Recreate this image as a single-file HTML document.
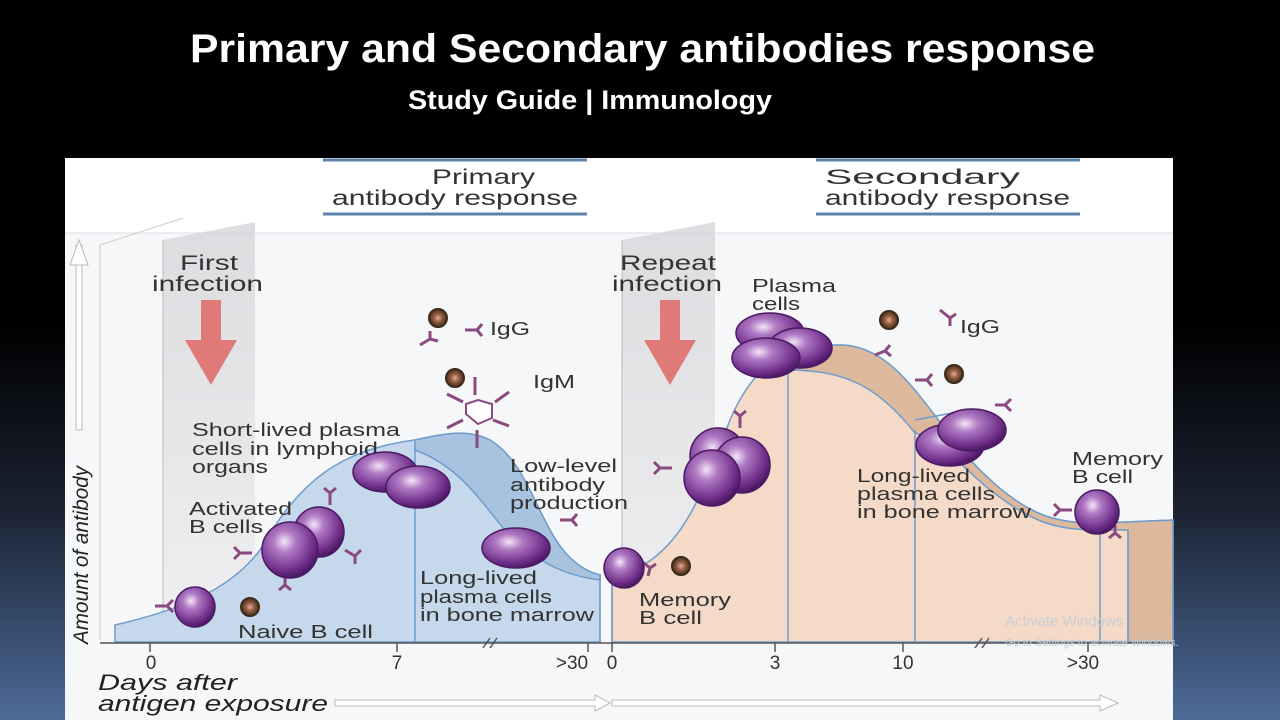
<!DOCTYPE html>
<html><head><meta charset="utf-8"><style>
body{margin:0;width:1280px;height:720px;overflow:hidden;background:linear-gradient(180deg,#000 0%,#000 45%,#1a2130 70%,#3b5275 90%,#4d6a98 100%);font-family:"Liberation Sans",sans-serif;position:relative}
svg{position:absolute;left:0;top:0}
</style></head><body>
<svg width="1280" height="720" viewBox="0 0 1280 720" font-family="Liberation Sans, sans-serif">
<defs>
<radialGradient id="c" cx="40%" cy="35%" r="65%"><stop offset="0" stop-color="#f3e6f7"/><stop offset="0.3" stop-color="#b07ac4"/><stop offset="0.8" stop-color="#6f2e8a"/><stop offset="1" stop-color="#4b1a63"/></radialGradient>
<radialGradient id="v" cx="50%" cy="50%" r="50%"><stop offset="0" stop-color="#e9a7a0"/><stop offset="0.5" stop-color="#8a5a3a"/><stop offset="1" stop-color="#4a3020"/></radialGradient>
<linearGradient id="g" x1="0" y1="0" x2="0" y2="1"><stop offset="0" stop-color="#d6d6da"/><stop offset="1" stop-color="#eeeef0"/></linearGradient>
</defs>
<text x="190" y="62" font-size="40" font-weight="bold" fill="#fff" textLength="905" lengthAdjust="spacingAndGlyphs">Primary and  Secondary antibodies response</text>
<text x="408" y="109" font-size="27" font-weight="bold" fill="#fff" textLength="364" lengthAdjust="spacingAndGlyphs">Study Guide | Immunology</text>
<rect x="65" y="158" width="1108" height="562" fill="#f6f7f8"/>
<rect x="65" y="158" width="1108" height="75" fill="#fff"/>
<line x1="65" y1="233" x2="1173" y2="233" stroke="#d8dde3"/>
<line x1="323" y1="160" x2="587" y2="160" stroke="#5b82a8" stroke-width="3"/>
<line x1="323" y1="214" x2="587" y2="214" stroke="#5b82a8" stroke-width="3"/>
<line x1="816" y1="160" x2="1080" y2="160" stroke="#5b82a8" stroke-width="3"/>
<line x1="816" y1="214" x2="1080" y2="214" stroke="#5b82a8" stroke-width="3"/>
<g font-size="21" fill="#333" lengthAdjust="spacingAndGlyphs">
<text x="432" y="184" textLength="103" lengthAdjust="spacingAndGlyphs">Primary</text><text x="332" y="205" textLength="246" lengthAdjust="spacingAndGlyphs">antibody response</text>
<text x="825" y="184" textLength="195" lengthAdjust="spacingAndGlyphs">Secondary</text><text x="825" y="205" textLength="245" lengthAdjust="spacingAndGlyphs">antibody response</text>
</g>
<polyline points="100,245 100,640" fill="none" stroke="#ccc"/>
<path d="M100,245 L183,218" stroke="#ccc" fill="none"/>
<path d="M163,240 L255,222 L255,640 L163,640Z" fill="url(#g)" opacity="0.8"/>
<path d="M622,240 L715,222 L715,640 L622,640Z" fill="url(#g)" opacity="0.8"/>
<line x1="163" y1="240" x2="163" y2="640" stroke="#bbb"/>
<line x1="622" y1="240" x2="622" y2="640" stroke="#bbb"/>
<path d="M76,245 L82,245 L82,430 L76,430Z" fill="#fff" stroke="#bbb"/>
<path d="M70,265 L79,240 L88,265Z" fill="#fff" stroke="#bbb"/>
<text transform="translate(88,644) rotate(-90)" font-size="21" font-style="italic" fill="#222" textLength="178" lengthAdjust="spacingAndGlyphs">Amount of antibody</text>
<path d="M115,642 L115,625 C180,610 230,590 260,550 C300,480 340,450 415,440 C450,432 470,430 490,440 C540,470 540,560 600,575 L600,642Z" fill="#c6d8ec" stroke="#6f9ccc" stroke-width="1.5"/>
<path d="M415,440 C450,432 470,430 490,440 C540,470 540,560 600,575 L600,580 C560,575 540,560 520,545 C490,520 470,470 415,450Z" fill="#a8c3e0" stroke="#6f9ccc" stroke-width="1.5"/>
<line x1="415" y1="445" x2="415" y2="642" stroke="#6f9ccc" stroke-width="1.5"/>
<path d="M612,642 L612,578 C680,560 700,500 730,420 C760,350 800,345 840,345 C900,345 930,420 980,470 C1030,520 1060,523 1100,523 L1173,520 L1173,642Z" fill="#f5dbc7" stroke="#6f9ccc" stroke-width="1.5"/>
<path d="M788,360 C800,345 820,345 840,345 C900,345 930,420 980,470 C1030,520 1060,523 1100,523 L1173,520 L1173,642 L1128,642 L1128,530 L1100,530 C1050,530 1030,520 990,490 C960,465 940,440 915,433 C880,390 850,370 788,370Z" fill="#dcb89d" stroke="#6f9ccc" stroke-width="1.5"/>
<line x1="915" y1="420" x2="968" y2="410" stroke="#6f9ccc" stroke-width="1.5"/>
<g stroke="#6f9ccc" stroke-width="1.5">
<line x1="600" y1="575" x2="600" y2="642"/><line x1="612" y1="578" x2="612" y2="642"/>
<line x1="788" y1="365" x2="788" y2="642"/><line x1="915" y1="430" x2="915" y2="642"/>
<line x1="1100" y1="525" x2="1100" y2="642"/><line x1="1128" y1="530" x2="1128" y2="642"/>
</g>
<line x1="100" y1="643" x2="1173" y2="643" stroke="#555" stroke-width="1.5"/>
<g stroke="#555" stroke-width="1.5">
<line x1="150" y1="643" x2="150" y2="652"/><line x1="397" y1="643" x2="397" y2="652"/><line x1="588" y1="643" x2="588" y2="652"/><line x1="612" y1="643" x2="612" y2="652"/><line x1="775" y1="643" x2="775" y2="652"/><line x1="903" y1="643" x2="903" y2="652"/><line x1="1088" y1="643" x2="1088" y2="652"/>
<line x1="483" y1="648" x2="490" y2="638"/><line x1="490" y1="648" x2="497" y2="638"/>
<line x1="975" y1="648" x2="982" y2="638"/><line x1="982" y1="648" x2="989" y2="638"/>
</g>
<g font-size="19" fill="#333" text-anchor="middle">
<text x="151" y="669">0</text><text x="397" y="669">7</text><text x="572" y="669">&gt;30</text><text x="612" y="669">0</text><text x="775" y="669">3</text><text x="903" y="669">10</text><text x="1083" y="669">&gt;30</text>
</g>
<text x="98" y="690" font-size="22" font-style="italic" fill="#222" textLength="139" lengthAdjust="spacingAndGlyphs">Days after</text>
<text x="98" y="711" font-size="22" font-style="italic" fill="#222" textLength="230" lengthAdjust="spacingAndGlyphs">antigen exposure</text>
<path d="M335,700 L595,700 L595,695 L610,703 L595,711 L595,706 L335,706Z" fill="#fff" stroke="#bbb"/>
<path d="M612,700 L1100,700 L1100,695 L1118,703 L1100,711 L1100,706 L612,706Z" fill="#fff" stroke="#bbb"/>
<path d="M201,300 L221,300 L221,340 L237,340 L211,385 L185,340 L201,340Z" fill="#e07a78"/>
<path d="M660,300 L680,300 L680,340 L696,340 L670,385 L644,340 L660,340Z" fill="#e07a78"/>
<g font-size="21" fill="#333">
<text x="180" y="270" textLength="58" lengthAdjust="spacingAndGlyphs">First</text><text x="152" y="291" textLength="111" lengthAdjust="spacingAndGlyphs">infection</text>
<text x="620" y="270" textLength="96" lengthAdjust="spacingAndGlyphs">Repeat</text><text x="612" y="291" textLength="110" lengthAdjust="spacingAndGlyphs">infection</text>
</g>
<g font-size="18" fill="#333">
<text x="192" y="436" textLength="208" lengthAdjust="spacingAndGlyphs">Short-lived plasma</text><text x="192" y="455" textLength="186" lengthAdjust="spacingAndGlyphs">cells in lymphoid</text><text x="192" y="473" textLength="76" lengthAdjust="spacingAndGlyphs">organs</text>
<text x="189" y="515" textLength="103" lengthAdjust="spacingAndGlyphs">Activated</text><text x="189" y="533" textLength="74" lengthAdjust="spacingAndGlyphs">B cells</text>
<text x="238" y="638" textLength="135" lengthAdjust="spacingAndGlyphs">Naive B cell</text>
<text x="510" y="472" textLength="107" lengthAdjust="spacingAndGlyphs">Low-level</text><text x="510" y="491" textLength="95" lengthAdjust="spacingAndGlyphs">antibody</text><text x="510" y="509" textLength="118" lengthAdjust="spacingAndGlyphs">production</text>
<text x="420" y="584" textLength="117" lengthAdjust="spacingAndGlyphs">Long-lived</text><text x="420" y="603" textLength="132" lengthAdjust="spacingAndGlyphs">plasma cells</text><text x="420" y="621" textLength="174" lengthAdjust="spacingAndGlyphs">in bone marrow</text>
<text x="490" y="335" textLength="40" lengthAdjust="spacingAndGlyphs">IgG</text><text x="533" y="388" textLength="42" lengthAdjust="spacingAndGlyphs">IgM</text>
<text x="752" y="292" textLength="84" lengthAdjust="spacingAndGlyphs">Plasma</text><text x="752" y="310" textLength="48" lengthAdjust="spacingAndGlyphs">cells</text>
<text x="960" y="333" textLength="40" lengthAdjust="spacingAndGlyphs">IgG</text>
<text x="639" y="606" textLength="92" lengthAdjust="spacingAndGlyphs">Memory</text><text x="639" y="624" textLength="63" lengthAdjust="spacingAndGlyphs">B cell</text>
<text x="857" y="482" textLength="113" lengthAdjust="spacingAndGlyphs">Long-lived</text><text x="857" y="500" textLength="138" lengthAdjust="spacingAndGlyphs">plasma cells</text><text x="857" y="518" textLength="174" lengthAdjust="spacingAndGlyphs">in bone marrow</text>
<text x="1072" y="465" textLength="91" lengthAdjust="spacingAndGlyphs">Memory</text><text x="1072" y="483" textLength="61" lengthAdjust="spacingAndGlyphs">B cell</text>
</g>
<text x="1005" y="626" font-size="15" fill="#c8cdd4">Activate Windows</text>
<text x="1005" y="646" font-size="11" fill="#c8cdd4">Go to Settings to activate Windows.</text>
<g stroke="#8a4a80" stroke-width="3" fill="none">
<path d="M155,606 l12,0 m0,0 l6,-6 m-6,6 l6,6"/><path d="M240,553 l12,0 m-12,0 l-6,-6 m6,6 l-6,6"/>
<path d="M330,505 l0,-12 m0,0 l-6,-5 m6,5 l6,-5"/><path d="M345,550 l10,6 m0,0 l6,-6 m-6,6 l0,8"/>
<path d="M285,575 l0,10 m0,0 l-6,5 m6,-5 l6,5"/><path d="M560,520 l12,0 m0,0 l5,-6 m-5,6 l5,6"/>
<path d="M420,345 l10,-6 m0,0 l0,-8 m0,8 l8,2"/><path d="M465,330 l12,0 m0,0 l5,-6 m-5,6 l5,6"/>
<path d="M660,468 l12,0 m-12,0 l-6,-6 m6,6 l-6,6"/><path d="M740,428 l0,-12 m0,0 l-6,-5 m6,5 l6,-5"/>
<path d="M875,355 l10,-4 m0,0 l5,-6 m-5,6 l6,5"/><path d="M940,310 l10,8 m0,0 l6,-4 m-6,4 l0,8"/>
<path d="M915,380 l12,0 m0,0 l5,-6 m-5,6 l5,6"/><path d="M995,405 l10,0 m0,0 l6,-6 m-6,6 l6,6"/>
<path d="M1060,510 l12,0 m-12,0 l-6,-6 m6,6 l-6,6"/><path d="M1100,495 l0,10 m0,0 l-6,-6 m6,6 l6,-6"/>
<path d="M1115,525 l0,8 m0,0 l-6,5 m6,-5 l6,5"/><path d="M640,560 l10,8 m0,0 l6,-4 m-6,4 l-2,8"/>
</g>
<g stroke="#8a4a80" stroke-width="3" fill="none">
<path d="M475,395 l0,-18 M495,402 l14,-10 M493,420 l16,6 M477,430 l0,18 M463,420 l-16,8 M463,402 l-16,-8"/>
</g>
<path d="M478,400 L492,404 L492,418 L478,424 L466,414 L466,404Z" fill="#fff" stroke="#8a4a80" stroke-width="2"/>
<g fill="url(#v)" stroke="#3a2a1a" stroke-width="2">
<circle cx="250" cy="607" r="9"/><circle cx="438" cy="318" r="9"/><circle cx="455" cy="378" r="9"/>
<circle cx="681" cy="566" r="9"/><circle cx="889" cy="320" r="9"/><circle cx="954" cy="374" r="9"/>
</g>
<g fill="url(#c)" stroke="#4b1a63" stroke-width="1.5">
<circle cx="195" cy="607" r="20"/>
<circle cx="319" cy="532" r="25"/><circle cx="290" cy="550" r="28"/>
<ellipse cx="385" cy="472" rx="32" ry="20"/><ellipse cx="418" cy="487" rx="32" ry="21"/>
<ellipse cx="516" cy="548" rx="34" ry="20"/>
<circle cx="624" cy="568" r="20"/>
<circle cx="718" cy="456" r="28"/><circle cx="742" cy="465" r="28"/><circle cx="712" cy="478" r="28"/>
<ellipse cx="770" cy="333" rx="34" ry="20"/><ellipse cx="800" cy="348" rx="32" ry="20"/><ellipse cx="766" cy="358" rx="34" ry="20"/>
<ellipse cx="950" cy="445" rx="34" ry="21"/><ellipse cx="972" cy="430" rx="34" ry="21"/>
<circle cx="1097" cy="512" r="22"/>
</g>
</svg>
</body></html>
